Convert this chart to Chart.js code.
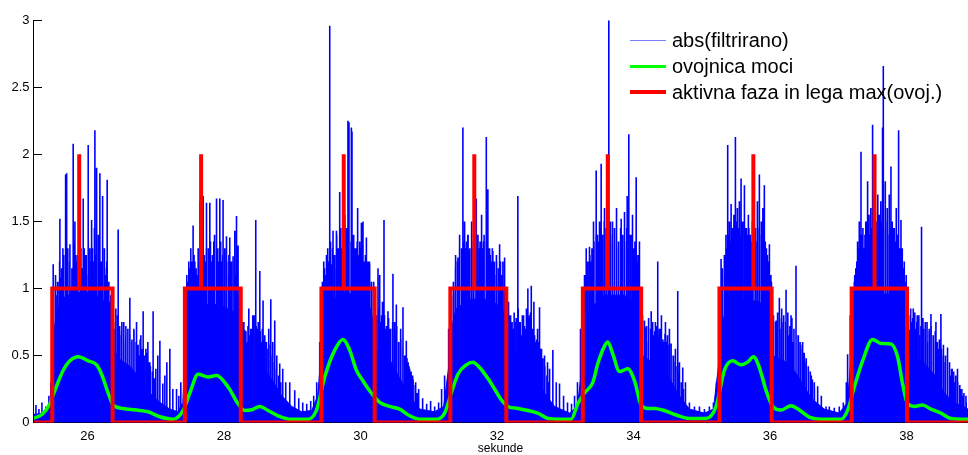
<!DOCTYPE html>
<html>
<head>
<meta charset="utf-8">
<title>EMG aktivnost</title>
<script src="https://cdn.jsdelivr.net/npm/chart.js@4.4.1/dist/chart.umd.min.js"></script>
<style>
  html, body { margin: 0; padding: 0; background: #fff; }
  #wrap { position: relative; width: 968px; height: 455px; }
  #legend {
    position: absolute; left: 630px; top: 27px;
    font-family: "Liberation Sans", Arial, sans-serif; font-size: 20px; color: #000;
  }
  #legend .row { display: flex; align-items: center; height: 26px; white-space: nowrap; }
  #legend .swatch { display: inline-block; width: 36px; height: 0; margin-right: 6px; }
</style>
</head>
<body>
<div id="wrap">
  <canvas id="c" width="968" height="455"></canvas>
  <div id="legend"></div>
</div>
<script>
// time window (s)
const xMin = 25.2;
const xMax = 38.9;

// axis ticks
const xTickValues = [26, 28, 30, 32, 34, 36, 38];
const xTickLabels = ['26', '28', '30', '32', '34', '36', '38'];
const yTickValues = [0, 0.5, 1, 1.5, 2, 2.5, 3];
const yTickLabels = ['0', '0.5', '1', '1.5', '2', '2.5', '3'];

// |filtered EMG|: dense part of the signal (level of the solid band)
const bodyTime = [
  25.2, 25.375, 25.448, 25.485, 25.510, 25.560, 25.640, 25.814, 26.034, 26.200, 26.300, 26.345, 26.372,
  26.473, 26.619, 26.766, 26.912, 27.059, 27.205, 27.322,
  27.395, 27.428, 27.460, 27.540, 27.717, 27.937, 28.150, 28.235,
  28.250, 28.406, 28.552, 28.698, 28.845, 28.991, 29.138, 29.284,
  29.372, 29.428, 29.460, 29.540, 29.767, 29.987, 30.150, 30.200,
  30.215, 30.426, 30.572, 30.719, 30.865, 31.085,
  31.217, 31.300, 31.330, 31.400, 31.597, 31.890, 32.080, 32.130,
  32.145, 32.403, 32.549, 32.695, 32.842, 33.061,
  33.178, 33.250, 33.280, 33.360, 33.574, 33.867, 34.060, 34.108,
  34.120, 34.379, 34.525, 34.672, 34.818, 35.038,
  35.170, 35.250, 35.280, 35.360, 35.624, 35.843, 35.980, 36.020,
  36.035, 36.282, 36.429, 36.604, 36.795, 37.014,
  37.132, 37.190, 37.220, 37.300, 37.527, 37.820, 37.960, 38.003,
  38.015, 38.259, 38.405, 38.552, 38.698, 38.9
];
const bodyLevel = [
  0.06, 0.07, 0.12, 0.45, 0.70, 0.85, 0.93, 0.97, 0.97, 0.93, 0.85, 0.75, 0.55,
  0.47, 0.42, 0.33, 0.22, 0.15, 0.10, 0.08,
  0.15, 0.50, 0.72, 0.82, 0.88, 0.88, 0.82, 0.70,
  0.52, 0.47, 0.43, 0.32, 0.20, 0.12, 0.08, 0.09,
  0.20, 0.55, 0.78, 0.90, 0.97, 0.95, 0.85, 0.70,
  0.55, 0.47, 0.33, 0.20, 0.10, 0.08,
  0.12, 0.45, 0.70, 0.85, 0.92, 0.92, 0.85, 0.68,
  0.55, 0.50, 0.38, 0.22, 0.12, 0.07,
  0.12, 0.45, 0.70, 0.85, 0.95, 0.95, 0.86, 0.70,
  0.50, 0.42, 0.33, 0.20, 0.10, 0.07,
  0.10, 0.45, 0.70, 0.86, 0.92, 0.90, 0.82, 0.68,
  0.50, 0.44, 0.33, 0.18, 0.10, 0.07,
  0.15, 0.50, 0.72, 0.88, 0.97, 0.95, 0.86, 0.70,
  0.52, 0.44, 0.36, 0.22, 0.15, 0.10
];

// |filtered EMG|: individual tall peaks
const spikeTime = [
  25.243, 25.287, 25.331, 25.389, 25.433, 25.463,
  25.496, 25.536, 25.565, 25.594, 25.616, 25.638, 25.678, 25.693, 25.712, 25.741, 25.763, 25.789, 25.814, 25.836, 25.858, 25.902, 25.936, 25.960, 25.982, 26.009, 26.034, 26.059, 26.078, 26.107, 26.132, 26.158, 26.180, 26.202, 26.220, 26.246, 26.268, 26.287, 26.312, 26.334,
  26.385, 26.414, 26.448, 26.473, 26.502, 26.531, 26.561, 26.590, 26.619, 26.649, 26.678, 26.717, 26.751, 26.780, 26.814, 26.854, 26.883, 26.912, 26.960, 27.000, 27.029, 27.059, 27.102, 27.132, 27.161, 27.205, 27.249, 27.303, 27.337, 27.366,
  27.425, 27.454, 27.483, 27.512, 27.546, 27.571, 27.600, 27.630, 27.644, 27.666, 27.693, 27.717, 27.742, 27.769, 27.791, 27.820, 27.849, 27.889, 27.908, 27.937, 27.959, 27.985, 28.010, 28.035, 28.069, 28.083, 28.105, 28.132, 28.157, 28.182, 28.205, 28.230,
  28.274, 28.303, 28.332, 28.362, 28.391, 28.420, 28.464, 28.493, 28.523, 28.545, 28.571, 28.596, 28.625, 28.654, 28.684, 28.713, 28.742, 28.772, 28.815, 28.859, 28.903, 28.962, 29.035, 29.094, 29.152, 29.211, 29.269, 29.313, 29.357,
  29.401, 29.430, 29.460, 29.489, 29.518, 29.548, 29.572, 29.596, 29.621, 29.646, 29.665, 29.694, 29.723, 29.745, 29.770, 29.792, 29.815, 29.830, 29.865, 29.874, 29.899, 29.928, 29.957, 29.987, 30.012, 30.035, 30.060, 30.085, 30.108, 30.133, 30.162, 30.192,
  30.221, 30.255, 30.280, 30.309, 30.343, 30.367, 30.401, 30.426, 30.474, 30.499, 30.524, 30.558, 30.587, 30.621, 30.646, 30.670, 30.697, 30.719, 30.763, 30.807, 30.851, 30.909, 30.968, 31.026, 31.085, 31.143, 31.187, 31.231,
  31.290, 31.329, 31.363, 31.392, 31.426, 31.451, 31.480, 31.499, 31.524, 31.553, 31.575, 31.597, 31.627, 31.656, 31.695, 31.714, 31.744, 31.773, 31.802, 31.842, 31.865, 31.890, 31.915, 31.938, 31.963, 31.993, 32.037, 32.058, 32.085, 32.110,
  32.168, 32.198, 32.227, 32.256, 32.304, 32.329, 32.359, 32.388, 32.417, 32.451, 32.476, 32.501, 32.539, 32.564, 32.593, 32.622, 32.651, 32.695, 32.739, 32.769, 32.817, 32.867, 32.915, 32.974, 33.032, 33.091, 33.135, 33.178,
  33.222, 33.252, 33.281, 33.306, 33.325, 33.354, 33.383, 33.413, 33.452, 33.471, 33.501, 33.525, 33.545, 33.574, 33.603, 33.637, 33.662, 33.691, 33.720, 33.750, 33.779, 33.818, 33.837, 33.867, 33.906, 33.930, 33.954, 33.984, 34.013, 34.038, 34.064, 34.086,
  34.130, 34.159, 34.184, 34.218, 34.258, 34.291, 34.320, 34.354, 34.379, 34.408, 34.438, 34.467, 34.496, 34.525, 34.550, 34.584, 34.613, 34.647, 34.672, 34.720, 34.760, 34.818, 34.892, 34.965, 35.038, 35.111, 35.170, 35.214,
  35.258, 35.282, 35.301, 35.331, 35.353, 35.379, 35.404, 35.429, 35.448, 35.470, 35.492, 35.521, 35.550, 35.575, 35.594, 35.624, 35.653, 35.682, 35.711, 35.741, 35.785, 35.814, 35.843, 35.872, 35.894, 35.916, 35.946, 35.968, 35.990, 36.012,
  36.048, 36.088, 36.107, 36.136, 36.165, 36.195, 36.234, 36.268, 36.307, 36.341, 36.380, 36.414, 36.443, 36.477, 36.502, 36.527, 36.561, 36.604, 36.648, 36.697, 36.751, 36.820, 36.868, 36.941, 37.014, 37.073, 37.117,
  37.136, 37.175, 37.205, 37.234, 37.256, 37.282, 37.307, 37.332, 37.351, 37.380, 37.402, 37.429, 37.454, 37.476, 37.502, 37.527, 37.556, 37.578, 37.600, 37.622, 37.648, 37.659, 37.688, 37.717, 37.746, 37.771, 37.790, 37.820, 37.849, 37.883, 37.918, 37.937, 37.966, 37.995,
  38.025, 38.039, 38.069, 38.098, 38.127, 38.156, 38.186, 38.219, 38.244, 38.274, 38.303, 38.332, 38.357, 38.391, 38.430, 38.464, 38.503, 38.537, 38.566, 38.600, 38.640, 38.669, 38.713, 38.746, 38.786, 38.830, 38.874
];
const spikeHeight = [
  0.13, 0.10, 0.15, 0.12, 0.20, 0.30,
  1.18, 0.95, 1.05, 1.52, 1.08, 1.30, 1.85, 1.86, 1.20, 1.33, 1.00, 2.08, 1.50, 1.20, 1.25, 1.30, 1.67, 1.25, 1.10, 2.07, 1.30, 1.51, 1.20, 2.18, 1.90, 1.40, 1.86, 1.20, 1.69, 1.30, 1.10, 1.81, 1.05, 0.90,
  0.70, 0.85, 1.44, 0.65, 0.75, 0.60, 0.72, 0.55, 0.93, 0.60, 0.70, 0.75, 0.50, 0.65, 0.83, 0.55, 0.60, 0.45, 0.83, 0.40, 0.50, 0.61, 0.29, 0.35, 0.45, 0.55, 0.25, 0.25, 0.20, 0.30,
  0.90, 1.10, 1.20, 1.30, 1.47, 1.20, 1.10, 1.30, 1.65, 1.25, 1.69, 1.20, 1.64, 1.30, 1.64, 1.20, 1.35, 1.67, 1.30, 1.67, 1.20, 1.66, 1.30, 1.39, 1.10, 1.38, 1.20, 1.24, 1.43, 1.54, 1.32, 1.00,
  0.75, 0.69, 0.60, 0.85, 0.70, 0.80, 1.51, 0.70, 1.13, 0.60, 0.91, 0.65, 0.55, 0.70, 0.92, 0.60, 0.76, 0.50, 0.44, 0.40, 0.30, 0.30, 0.24, 0.18, 0.15, 0.14, 0.16, 0.20, 0.30,
  0.60, 1.00, 1.20, 1.10, 1.30, 2.96, 1.18, 1.43, 1.15, 1.43, 1.30, 1.72, 1.30, 1.25, 1.55, 1.45, 2.25, 2.24, 2.20, 2.17, 1.40, 1.30, 1.60, 1.35, 1.49, 1.50, 1.20, 1.38, 1.20, 1.18, 1.00, 1.05,
  0.80, 1.15, 1.10, 0.80, 1.51, 0.70, 0.83, 0.70, 1.11, 0.75, 0.88, 0.60, 0.70, 0.86, 0.50, 0.61, 0.45, 0.40, 0.35, 0.30, 0.25, 0.18, 0.14, 0.16, 0.12, 0.15, 0.25, 0.35,
  0.70, 0.90, 1.00, 1.25, 1.23, 1.40, 1.30, 2.20, 1.50, 1.35, 1.40, 1.28, 1.50, 1.30, 1.67, 1.40, 1.30, 1.55, 1.35, 2.13, 1.74, 1.30, 1.20, 1.28, 1.10, 1.20, 1.33, 1.10, 1.20, 1.23,
  0.90, 0.80, 0.70, 0.75, 1.69, 0.75, 0.65, 0.80, 0.70, 1.00, 0.80, 1.02, 0.90, 0.60, 0.70, 0.86, 0.55, 0.50, 0.45, 0.40, 0.54, 0.30, 0.29, 0.20, 0.15, 0.14, 0.20, 0.30,
  0.70, 0.90, 1.10, 1.30, 1.15, 1.31, 1.20, 1.50, 1.88, 1.40, 1.50, 1.93, 1.40, 1.60, 1.35, 3.00, 1.40, 1.50, 1.30, 1.60, 1.30, 1.52, 1.35, 1.57, 1.69, 2.15, 1.40, 1.55, 1.30, 1.83, 1.25, 1.35,
  0.80, 0.76, 0.71, 0.60, 0.83, 0.65, 0.75, 1.20, 0.70, 0.80, 0.60, 0.75, 0.65, 0.70, 0.59, 0.50, 0.55, 0.98, 0.45, 0.41, 0.30, 0.15, 0.12, 0.12, 0.10, 0.12, 0.15, 0.30,
  0.90, 1.22, 1.10, 1.25, 1.40, 2.07, 1.50, 1.63, 1.40, 1.55, 2.13, 1.60, 1.65, 1.82, 1.50, 1.77, 1.45, 1.55, 1.40, 1.50, 1.45, 1.65, 1.85, 1.50, 1.60, 1.77, 1.30, 1.20, 1.33, 1.10,
  0.80, 0.76, 0.65, 0.93, 0.70, 0.75, 0.99, 0.65, 0.80, 0.60, 1.17, 0.65, 0.55, 0.60, 0.50, 0.45, 0.40, 0.35, 0.30, 0.27, 0.20, 0.12, 0.12, 0.11, 0.12, 0.15, 0.30,
  0.51, 0.80, 0.95, 1.05, 1.15, 1.35, 1.50, 2.02, 1.40, 1.30, 1.50, 1.80, 1.40, 1.60, 2.22, 1.60, 1.50, 1.70, 1.45, 1.65, 2.20, 2.66, 1.80, 1.60, 1.70, 1.91, 1.50, 1.45, 1.60, 2.18, 1.51, 1.30, 1.20, 1.10,
  0.75, 0.69, 0.75, 0.85, 0.70, 0.80, 0.65, 1.46, 0.70, 0.75, 0.60, 0.70, 0.81, 0.60, 0.75, 0.55, 0.81, 0.50, 0.45, 0.56, 0.35, 0.40, 0.30, 0.40, 0.25, 0.20, 0.15
];

// |filtered EMG|: the thicket of medium peaks between the tall ones
const denseTime = [
  25.50, 25.53, 25.56, 25.59, 25.62, 25.65, 25.68, 25.71, 25.74, 25.77, 25.80, 25.83, 25.86, 25.89, 25.92, 25.95, 25.98, 26.01, 26.04, 26.07, 26.10, 26.13, 26.16, 26.19, 26.22, 26.25, 26.28, 26.31, 26.34,
  26.38, 26.41, 26.44, 26.47, 26.50, 26.53, 26.56, 26.59, 26.62, 26.65, 26.68, 26.71, 26.74, 26.77, 26.80, 26.83, 26.86, 26.89, 26.92, 26.95, 26.98,
  27.44, 27.47, 27.50, 27.53, 27.56, 27.59, 27.62, 27.65, 27.68, 27.71, 27.74, 27.77, 27.80, 27.83, 27.86, 27.89, 27.92, 27.95, 27.98, 28.01, 28.04, 28.07, 28.10, 28.13, 28.16, 28.19, 28.22,
  28.26, 28.29, 28.32, 28.35, 28.38, 28.41, 28.44, 28.47, 28.50, 28.53, 28.56, 28.59, 28.62, 28.65, 28.68, 28.71, 28.74, 28.77, 28.80, 28.83, 28.86,
  29.44, 29.47, 29.50, 29.53, 29.56, 29.59, 29.62, 29.65, 29.68, 29.71, 29.74, 29.77, 29.80, 29.83, 29.86, 29.89, 29.92, 29.95, 29.98, 30.01, 30.04, 30.07, 30.10, 30.13, 30.16, 30.19,
  30.23, 30.26, 30.29, 30.32, 30.35, 30.38, 30.41, 30.44, 30.47, 30.50, 30.53, 30.56, 30.59, 30.62, 30.65, 30.68, 30.71, 30.74, 30.77, 30.80, 30.83,
  31.33, 31.36, 31.39, 31.42, 31.45, 31.48, 31.51, 31.54, 31.57, 31.60, 31.63, 31.66, 31.69, 31.72, 31.75, 31.78, 31.81, 31.84, 31.87, 31.90, 31.93, 31.96, 31.99, 32.02, 32.05, 32.08, 32.11,
  32.16, 32.19, 32.22, 32.25, 32.28, 32.31, 32.34, 32.37, 32.40, 32.43, 32.46, 32.49, 32.52, 32.55, 32.58, 32.61, 32.64, 32.67, 32.70, 32.73, 32.76,
  33.27, 33.30, 33.33, 33.36, 33.39, 33.42, 33.45, 33.48, 33.51, 33.54, 33.57, 33.60, 33.63, 33.66, 33.69, 33.72, 33.75, 33.78, 33.81, 33.84, 33.87, 33.90, 33.93, 33.96, 33.99, 34.02, 34.05, 34.08,
  34.13, 34.16, 34.19, 34.22, 34.25, 34.28, 34.31, 34.34, 34.37, 34.40, 34.43, 34.46, 34.49, 34.52, 34.55, 34.58, 34.61, 34.64, 34.67, 34.70, 34.73,
  35.27, 35.30, 35.33, 35.36, 35.39, 35.42, 35.45, 35.48, 35.51, 35.54, 35.57, 35.60, 35.63, 35.66, 35.69, 35.72, 35.75, 35.78, 35.81, 35.84, 35.87, 35.90, 35.93, 35.96, 35.99, 36.02,
  36.05, 36.08, 36.11, 36.14, 36.17, 36.20, 36.23, 36.26, 36.29, 36.32, 36.35, 36.38, 36.41, 36.44, 36.47, 36.50, 36.53, 36.56, 36.59, 36.62, 36.65,
  37.21, 37.24, 37.27, 37.30, 37.33, 37.36, 37.39, 37.42, 37.45, 37.48, 37.51, 37.54, 37.57, 37.60, 37.63, 37.66, 37.69, 37.72, 37.75, 37.78, 37.81, 37.84, 37.87, 37.90, 37.93, 37.96, 37.99,
  38.03, 38.06, 38.09, 38.12, 38.15, 38.18, 38.21, 38.24, 38.27, 38.30, 38.33, 38.36, 38.39, 38.42, 38.45, 38.48, 38.51, 38.54, 38.57, 38.60, 38.63, 38.66, 38.69, 38.72, 38.75, 38.78, 38.81, 38.84, 38.87
];
const denseHeight = [
  1.00, 1.10, 1.05, 1.20, 1.15, 1.25, 1.10, 1.30, 1.20, 1.15, 1.35, 1.25, 1.20, 1.40, 1.15, 1.30, 1.25, 1.35, 1.20, 1.30, 1.45, 1.25, 1.35, 1.20, 1.30, 1.15, 1.20, 1.05, 0.95,
  0.75, 0.70, 0.80, 0.72, 0.68, 0.75, 0.65, 0.70, 0.66, 0.62, 0.68, 0.60, 0.58, 0.62, 0.55, 0.50, 0.52, 0.45, 0.42, 0.38, 0.33,
  0.95, 1.05, 1.15, 1.20, 1.25, 1.15, 1.30, 1.20, 1.35, 1.25, 1.30, 1.20, 1.35, 1.25, 1.40, 1.30, 1.20, 1.35, 1.25, 1.30, 1.20, 1.25, 1.15, 1.20, 1.10, 1.05, 0.95,
  0.70, 0.75, 0.68, 0.72, 0.65, 0.70, 0.80, 0.72, 0.75, 0.68, 0.70, 0.62, 0.60, 0.55, 0.58, 0.50, 0.45, 0.40, 0.35, 0.30, 0.25,
  1.05, 1.15, 1.25, 1.20, 1.35, 1.30, 1.25, 1.40, 1.30, 1.45, 1.35, 1.40, 1.30, 1.50, 1.35, 1.40, 1.30, 1.35, 1.25, 1.30, 1.20, 1.25, 1.15, 1.20, 1.05, 1.00,
  0.80, 0.85, 0.75, 0.90, 0.80, 0.72, 0.78, 0.70, 0.75, 0.68, 0.72, 0.60, 0.62, 0.55, 0.50, 0.48, 0.42, 0.38, 0.32, 0.28, 0.22,
  0.95, 1.05, 1.15, 1.20, 1.30, 1.25, 1.35, 1.30, 1.40, 1.30, 1.35, 1.45, 1.30, 1.40, 1.35, 1.30, 1.40, 1.35, 1.30, 1.25, 1.30, 1.20, 1.25, 1.15, 1.20, 1.10, 1.05,
  0.85, 0.80, 0.75, 0.82, 0.78, 0.85, 0.75, 0.80, 0.72, 0.85, 0.78, 0.82, 0.70, 0.65, 0.62, 0.60, 0.55, 0.48, 0.42, 0.35, 0.30,
  1.00, 1.10, 1.20, 1.25, 1.30, 1.35, 1.40, 1.35, 1.45, 1.40, 1.50, 1.45, 1.40, 1.50, 1.35, 1.45, 1.40, 1.35, 1.45, 1.40, 1.35, 1.45, 1.30, 1.40, 1.30, 1.35, 1.20, 1.15,
  0.80, 0.75, 0.72, 0.78, 0.70, 0.75, 0.68, 0.72, 0.65, 0.70, 0.62, 0.66, 0.60, 0.58, 0.52, 0.50, 0.45, 0.42, 0.38, 0.30, 0.25,
  1.00, 1.15, 1.25, 1.30, 1.40, 1.35, 1.45, 1.40, 1.50, 1.45, 1.40, 1.50, 1.45, 1.40, 1.45, 1.35, 1.45, 1.40, 1.35, 1.45, 1.40, 1.30, 1.35, 1.25, 1.15, 1.05,
  0.80, 0.75, 0.82, 0.78, 0.85, 0.80, 0.75, 0.82, 0.72, 0.78, 0.70, 0.75, 0.65, 0.60, 0.58, 0.52, 0.48, 0.42, 0.38, 0.32, 0.26,
  1.00, 1.10, 1.20, 1.30, 1.40, 1.45, 1.40, 1.50, 1.55, 1.45, 1.55, 1.50, 1.45, 1.55, 1.50, 1.45, 1.50, 1.40, 1.45, 1.40, 1.45, 1.35, 1.40, 1.30, 1.25, 1.15, 1.05,
  0.80, 0.85, 0.78, 0.82, 0.75, 0.80, 0.72, 0.78, 0.70, 0.75, 0.68, 0.72, 0.65, 0.68, 0.60, 0.62, 0.55, 0.58, 0.50, 0.48, 0.45, 0.40, 0.38, 0.35, 0.30, 0.28, 0.25, 0.22, 0.20
];

// power envelope
const envTime = [
  25.2, 25.331, 25.448, 25.521, 25.643, 25.741, 25.862, 26.009, 26.132, 26.205, 26.302, 26.375, 26.521, 26.717, 26.887, 27.059, 27.253,
  27.400, 27.498, 27.619, 27.766, 27.889, 28.059, 28.205, 28.303, 28.401, 28.523, 28.644, 28.791, 28.987, 29.230,
  29.353, 29.474, 29.621, 29.742, 29.840, 29.939, 30.035, 30.158, 30.280, 30.426, 30.573, 30.719, 30.865, 31.110,
  31.231, 31.329, 31.426, 31.549, 31.646, 31.744, 31.890, 31.963, 32.061, 32.158, 32.305, 32.451, 32.597, 32.744, 32.940, 33.086,
  33.183, 33.281, 33.403, 33.476, 33.574, 33.622, 33.696, 33.794, 33.915, 34.014, 34.111, 34.208, 34.306, 34.427, 34.624, 34.818, 35.063,
  35.209, 35.331, 35.452, 35.575, 35.672, 35.756, 35.843, 35.941, 36.038, 36.161, 36.307, 36.429, 36.575, 36.747, 37.040,
  37.136, 37.234, 37.356, 37.502, 37.625, 37.772, 37.868, 37.941, 38.015, 38.113, 38.234, 38.357, 38.504, 38.650, 38.845, 38.9
];
const envValue = [
  0.03, 0.06, 0.14, 0.24, 0.39, 0.46, 0.49, 0.46, 0.43, 0.36, 0.22, 0.13, 0.105, 0.093, 0.08, 0.043, 0.024,
  0.09, 0.22, 0.36, 0.34, 0.35, 0.265, 0.14, 0.09, 0.095, 0.12, 0.09, 0.05, 0.024, 0.024,
  0.09, 0.34, 0.54, 0.62, 0.54, 0.39, 0.31, 0.22, 0.15, 0.12, 0.10, 0.05, 0.024, 0.024,
  0.07, 0.22, 0.36, 0.43, 0.45, 0.41, 0.31, 0.25, 0.17, 0.12, 0.105, 0.09, 0.07, 0.03, 0.024, 0.025,
  0.14, 0.22, 0.30, 0.44, 0.57, 0.60, 0.51, 0.38, 0.40, 0.31, 0.13, 0.105, 0.105, 0.093, 0.056, 0.03, 0.03,
  0.12, 0.39, 0.46, 0.43, 0.45, 0.49, 0.41, 0.24, 0.12, 0.093, 0.125, 0.093, 0.04, 0.024, 0.025,
  0.09, 0.265, 0.46, 0.62, 0.59, 0.585, 0.49, 0.29, 0.14, 0.12, 0.13, 0.10, 0.07, 0.03, 0.024, 0.024
];

// active phases and position of envelope maximum
const phaseStart = [25.482, 27.425, 29.426, 31.315, 33.256, 35.258, 37.195];
const phaseEnd   = [26.366, 28.244, 30.206, 32.135, 34.111, 36.023, 38.006];
const phaseMax   = [25.877, 27.663, 29.753, 31.666, 33.622, 35.755, 37.531];
const restLevel = 0;
const activeLevel = 1;
const maxLevel = 2;

// ---- build datasets ----
const bodyPoints = bodyTime.map((t, i) => ({ x: t, y: bodyLevel[i] }));

// each peak is a vertical stroke from 0 to its height; null breaks the line between strokes
const spikePoints = [];
const addStrokes = (times, heights) => times.forEach((t, i) => {
  spikePoints.push({ x: t, y: 0 }, { x: t, y: heights[i] }, { x: t, y: null });
});
addStrokes(denseTime, denseHeight);
addStrokes(spikeTime, spikeHeight);

const envPoints = envTime.map((t, i) => ({ x: t, y: envValue[i] }));

const phasePoints = [{ x: xMin, y: restLevel }];
phaseStart.forEach((s, i) => {
  const m = phaseMax[i], e = phaseEnd[i];
  phasePoints.push(
    { x: s, y: restLevel }, { x: s, y: activeLevel },
    { x: m, y: activeLevel }, { x: m, y: maxLevel }, { x: m, y: activeLevel },
    { x: e, y: activeLevel }, { x: e, y: restLevel }
  );
});
phasePoints.push({ x: xMax, y: restLevel });

// legend rendered as HTML next to the plot
const htmlLegend = {
  id: 'htmlLegend',
  afterUpdate(chart) {
    const box = document.getElementById('legend');
    box.innerHTML = '';
    chart.data.datasets.forEach(ds => {
      if (!ds.label) return;
      const row = document.createElement('div');
      row.className = 'row';
      const sw = document.createElement('span');
      sw.className = 'swatch';
      sw.style.borderTop = (ds.legendWidth || ds.borderWidth) + 'px solid ' + (ds.legendColor || ds.borderColor);
      const tx = document.createElement('span');
      tx.textContent = ds.label;
      row.append(sw, tx);
      box.append(row);
    });
  }
};

const tickFont = { family: '"Liberation Sans", Arial, sans-serif', size: 13 };

new Chart(document.getElementById('c'), {
  type: 'line',
  data: {
    datasets: [
      { label: '', data: bodyPoints, fill: 'origin', backgroundColor: '#0000ff', borderColor: '#0000ff',
        borderWidth: 1, pointRadius: 0, tension: 0, order: 3 },
      { label: 'abs(filtrirano)', data: spikePoints, borderColor: '#0000ff', borderWidth: 1.6,
        pointRadius: 0, spanGaps: false, fill: false, order: 2, legendColor: '#7b7bff', legendWidth: 1.2 },
      { label: 'ovojnica moci', data: envPoints, borderColor: '#00ff00', borderWidth: 3.5,
        pointRadius: 0, cubicInterpolationMode: 'monotone', fill: false, order: 1 },
      { label: 'aktivna faza in lega max(ovoj.)', data: phasePoints, borderColor: '#ff0000', borderWidth: 4,
        pointRadius: 0, tension: 0, borderJoinStyle: 'miter', fill: false, order: 0 }
    ]
  },
  options: {
    responsive: false,
    animation: false,
    events: [],
    layout: { padding: { top: 17.5, right: 0, bottom: 0, left: 0 } },
    plugins: { legend: { display: false }, tooltip: { enabled: false } },
    scales: {
      x: {
        type: 'linear', min: xMin, max: xMax,
        afterBuildTicks: s => { s.ticks = xTickValues.map(v => ({ value: v })); },
        afterFit: s => { s.height = 32.5; },
        ticks: {
          callback: v => xTickLabels[xTickValues.indexOf(v)],
          font: tickFont, color: '#000', padding: 15, maxRotation: 0, autoSkip: false
        },
        grid: { drawOnChartArea: false, drawTicks: true, tickLength: -9, color: '#000' },
        border: { display: true, color: '#000', width: 1 },
        title: { display: true, text: 'sekunde', color: '#000',
                 font: { family: '"Liberation Sans", Arial, sans-serif', size: 12, lineHeight: 1 },
                 padding: { top: 0, bottom: 0 } }
      },
      y: {
        type: 'linear', min: 0, max: 3,
        afterBuildTicks: s => { s.ticks = yTickValues.map(v => ({ value: v })); },
        afterFit: s => { s.width = 33; },
        ticks: {
          callback: v => yTickLabels[yTickValues.indexOf(v)],
          font: tickFont, color: '#000', padding: 12.5, autoSkip: false
        },
        grid: { drawOnChartArea: false, drawTicks: true, tickLength: -9, color: '#000' },
        border: { display: true, color: '#000', width: 1, z: 1 }
      }
    }
  },
  plugins: [htmlLegend]
});
</script>
</body>
</html>
